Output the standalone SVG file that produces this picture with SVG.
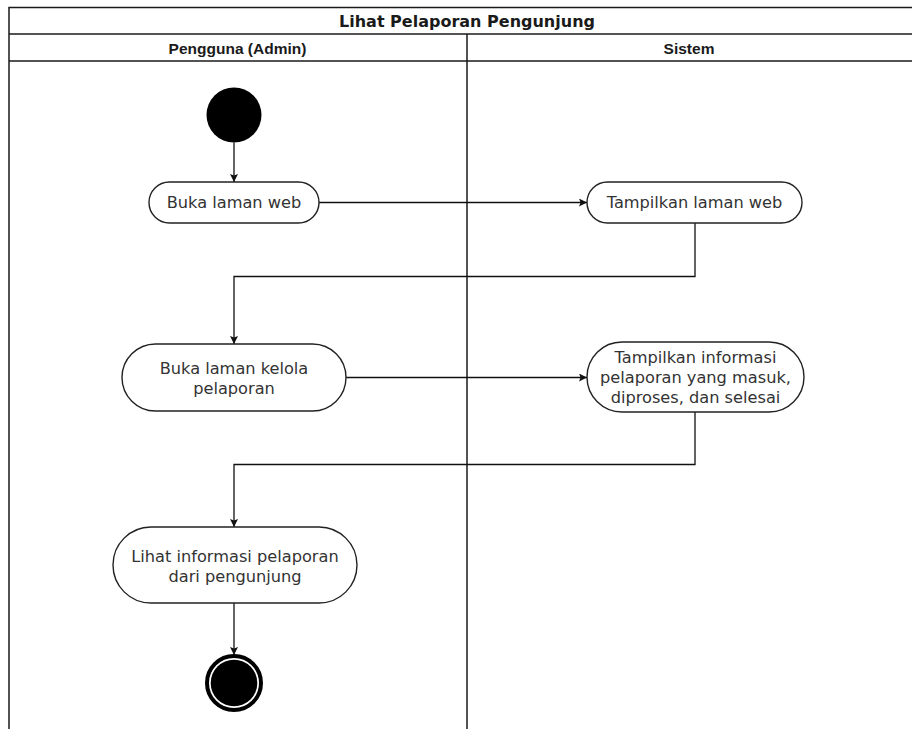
<svg xmlns="http://www.w3.org/2000/svg" width="912" height="729" viewBox="0 0 912 729">
  <style>
    .frame { fill: none; stroke: #1a1a1a; stroke-width: 1.5; }
    .title { font-family: "DejaVu Sans", Verdana, sans-serif; font-weight: bold; font-size: 16px; fill: #1a1a1a; text-anchor: middle; }
    .lane { font-family: "Liberation Sans", Arial, sans-serif; font-weight: bold; font-size: 15.5px; fill: #1a1a1a; text-anchor: middle; }
    .act { fill: #ffffff; stroke: #222222; stroke-width: 1.4; }
    .label { font-family: "DejaVu Sans", Verdana, sans-serif; font-size: 16.2px; fill: #333333; text-anchor: middle; }
    .edge { fill: none; stroke: #111111; stroke-width: 1.3; marker-end: url(#arrow); }
  </style>
  <defs>
    <marker id="arrow" viewBox="0 0 10 10" refX="10" refY="5" markerWidth="8" markerHeight="8" markerUnits="userSpaceOnUse" orient="auto">
      <path d="M0,0 L10,5 L0,10 L2,5 Z" fill="#111111"/>
    </marker>
  </defs>
  <rect width="912" height="729" fill="#ffffff"/>

  <!-- swimlane frame -->
  <g id="swimlanes">
    <path class="frame" d="M9,729 V7.5 H912"/>
    <line class="frame" x1="9" y1="34" x2="912" y2="34"/>
    <line class="frame" x1="9" y1="61" x2="912" y2="61"/>
    <line class="frame" x1="467" y1="34" x2="467" y2="729"/>
    <text class="title" x="467" y="26.5">Lihat Pelaporan Pengunjung</text>
    <text class="lane" x="237.5" y="53.5">Pengguna (Admin)</text>
    <text class="lane" x="689" y="53.5">Sistem</text>
  </g>

  <!-- connectors -->
  <g id="connectors">
    <line class="edge" x1="234" y1="142.5" x2="234" y2="182"/>
    <line class="edge" x1="319" y1="202.5" x2="587" y2="202.5"/>
    <path class="edge" d="M695,223 V276.5 H234 V344"/>
    <line class="edge" x1="346" y1="377.5" x2="587" y2="377.5"/>
    <path class="edge" d="M695,412 V464.5 H234 V527"/>
    <line class="edge" x1="234" y1="603" x2="234" y2="655"/>
  </g>

  <g id="start">
    <circle cx="234" cy="115" r="27.5" fill="#000000"/>
  </g>

  <g id="buka-laman-web">
    <rect class="act" x="149" y="182" width="170" height="41" rx="20.5"/>
    <text class="label" x="234" y="208">Buka laman web</text>
  </g>

  <g id="tampilkan-laman-web">
    <rect class="act" x="587" y="182" width="215" height="41" rx="20.5"/>
    <text class="label" x="694.5" y="208">Tampilkan laman web</text>
  </g>

  <g id="buka-laman-kelola">
    <rect class="act" x="122" y="344" width="224" height="67" rx="33.5"/>
    <text class="label" x="234" y="373.5">Buka laman kelola</text>
    <text class="label" x="234" y="393.5">pelaporan</text>
  </g>

  <g id="tampilkan-informasi">
    <rect class="act" x="587" y="342" width="217" height="70" rx="35"/>
    <text class="label" x="695.5" y="362.5">Tampilkan informasi</text>
    <text class="label" x="695.5" y="382.5">pelaporan yang masuk,</text>
    <text class="label" x="695.5" y="402.5">diproses, dan selesai</text>
  </g>

  <g id="lihat-informasi">
    <rect class="act" x="113" y="527" width="244" height="76" rx="38"/>
    <text class="label" x="235" y="561.5">Lihat informasi pelaporan</text>
    <text class="label" x="235" y="581.5">dari pengunjung</text>
  </g>

  <g id="end">
    <circle cx="234" cy="683" r="27" fill="#ffffff" stroke="#000000" stroke-width="4"/>
    <circle cx="234" cy="683" r="23.3" fill="#000000"/>
  </g>
</svg>
